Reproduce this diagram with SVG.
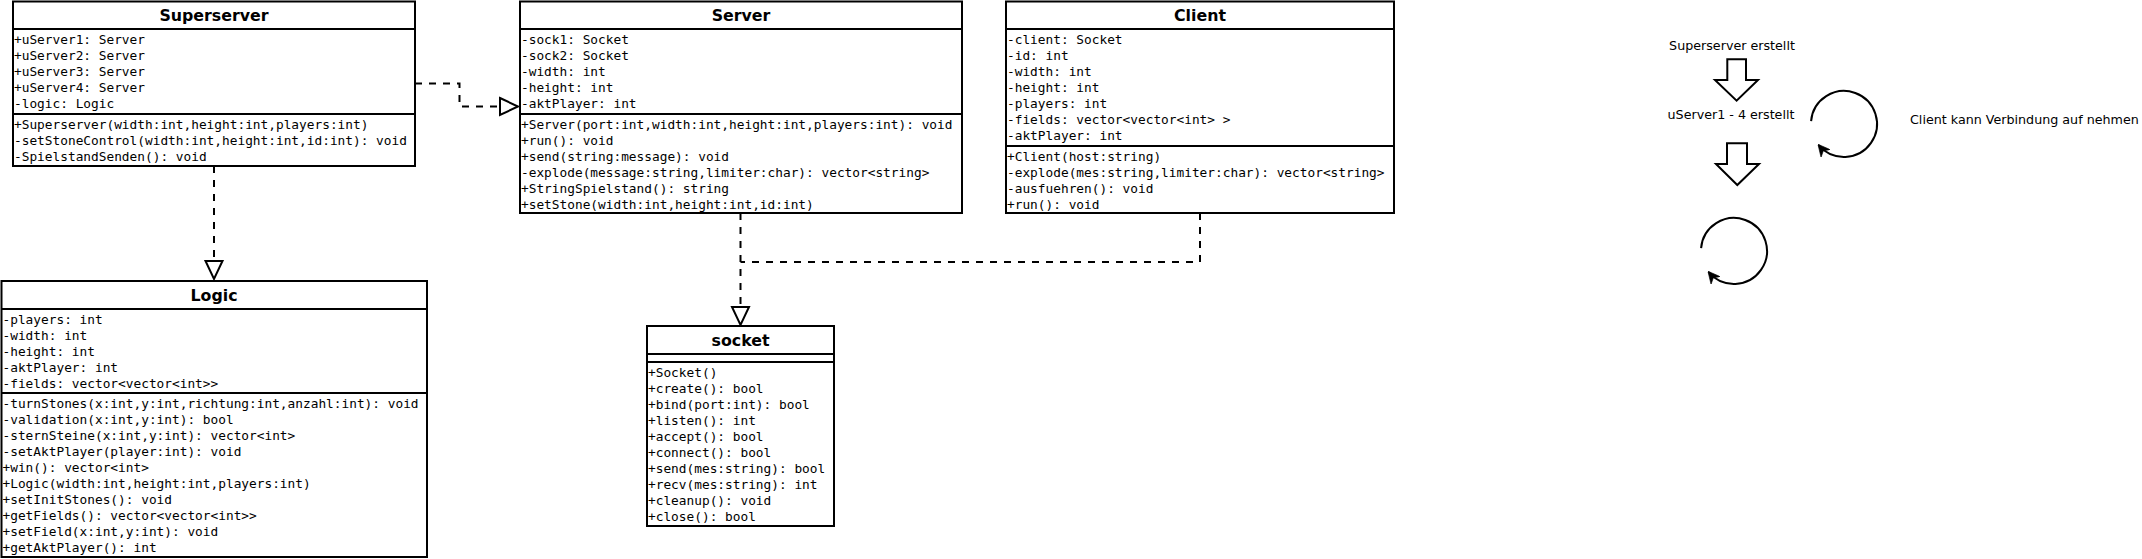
<svg xmlns="http://www.w3.org/2000/svg" width="2142" height="559" viewBox="0 0 2142 559">
<style>
.box{fill:#fff;stroke:#000;stroke-width:2}
.div{stroke:#000;stroke-width:2}
.title{font-family:"DejaVu Sans","Liberation Sans",sans-serif;font-weight:bold;font-size:15.8px;text-anchor:middle;fill:#000}
.m{font-family:"DejaVu Sans Mono","Liberation Mono",monospace;font-size:12.8px;fill:#000}
.lbl{font-family:"DejaVu Sans","Liberation Sans",sans-serif;font-size:12.7px;fill:#000}
.dash{fill:none;stroke:#000;stroke-width:2;stroke-dasharray:7 7}
.tri{fill:#fff;stroke:#000;stroke-width:2;stroke-linejoin:miter}
.barrow{fill:#fff;stroke:#000;stroke-width:2}
.loop{fill:none;stroke:#000;stroke-width:2}
</style>
<defs>
<marker id="classic" viewBox="0 0 10 10" refX="9" refY="5" markerWidth="12" markerHeight="12" markerUnits="userSpaceOnUse" orient="auto">
<path d="M0,0 L10,5 L0,10 L3,5 z" fill="#000" stroke="#000" stroke-width="0.5"/>
</marker>
</defs>

<g id="connectors">
<path class="dash" d="M415,83.5 H459.5 V106.5 H500"/>
<polygon class="tri" points="500,98 518,106.5 500,115"/>
<path class="dash" d="M214,166 V261"/>
<polygon class="tri" points="205.5,261 222.5,261 214,279"/>
<path class="dash" d="M740.5,213 V307"/>
<polygon class="tri" points="732,307 749,307 740.5,325"/>
<path class="dash" d="M1200,213 V262 H740.5"/>
</g>

<g id="Superserver">
<rect class="box" x="13" y="1.5" width="402" height="164.5"/>
<line class="div" x1="13" y1="29" x2="415" y2="29"/>
<line class="div" x1="13" y1="114" x2="415" y2="114"/>
<text class="title" x="214" y="21">Superserver</text>
<text class="m" x="14">
<tspan x="14" y="43.5">+uServer1: Server</tspan>
<tspan x="14" y="59.5">+uServer2: Server</tspan>
<tspan x="14" y="75.5">+uServer3: Server</tspan>
<tspan x="14" y="91.5">+uServer4: Server</tspan>
<tspan x="14" y="107.5">-logic: Logic</tspan>
<tspan x="14" y="128.5">+Superserver(width:int,height:int,players:int)</tspan>
<tspan x="14" y="144.5">-setStoneControl(width:int,height:int,id:int): void</tspan>
<tspan x="14" y="160.5">-SpielstandSenden(): void</tspan>
</text>
</g>

<g id="Server">
<rect class="box" x="520" y="1.5" width="442" height="211.5"/>
<line class="div" x1="520" y1="29" x2="962" y2="29"/>
<line class="div" x1="520" y1="114" x2="962" y2="114"/>
<text class="title" x="741" y="21">Server</text>
<text class="m">
<tspan x="521" y="43.5">-sock1: Socket</tspan>
<tspan x="521" y="59.5">-sock2: Socket</tspan>
<tspan x="521" y="75.5">-width: int</tspan>
<tspan x="521" y="91.5">-height: int</tspan>
<tspan x="521" y="107.5">-aktPlayer: int</tspan>
<tspan x="521" y="128.5">+Server(port:int,width:int,height:int,players:int): void</tspan>
<tspan x="521" y="144.5">+run(): void</tspan>
<tspan x="521" y="160.5">+send(string:message): void</tspan>
<tspan x="521" y="176.5">-explode(message:string,limiter:char): vector&lt;string&gt;</tspan>
<tspan x="521" y="192.5">+StringSpielstand(): string</tspan>
<tspan x="521" y="208.5">+setStone(width:int,height:int,id:int)</tspan>
</text>
</g>

<g id="Client">
<rect class="box" x="1006" y="1.5" width="388" height="211.5"/>
<line class="div" x1="1006" y1="29" x2="1394" y2="29"/>
<line class="div" x1="1006" y1="146" x2="1394" y2="146"/>
<text class="title" x="1200" y="21">Client</text>
<text class="m">
<tspan x="1007" y="43.5">-client: Socket</tspan>
<tspan x="1007" y="59.5">-id: int</tspan>
<tspan x="1007" y="75.5">-width: int</tspan>
<tspan x="1007" y="91.5">-height: int</tspan>
<tspan x="1007" y="107.5">-players: int</tspan>
<tspan x="1007" y="123.5">-fields: vector&lt;vector&lt;int&gt; &gt;</tspan>
<tspan x="1007" y="139.5">-aktPlayer: int</tspan>
<tspan x="1007" y="160.5">+Client(host:string)</tspan>
<tspan x="1007" y="176.5">-explode(mes:string,limiter:char): vector&lt;string&gt;</tspan>
<tspan x="1007" y="192.5">-ausfuehren(): void</tspan>
<tspan x="1007" y="208.5">+run(): void</tspan>
</text>
</g>

<g id="Logic">
<rect class="box" x="1.5" y="281" width="425.5" height="276"/>
<line class="div" x1="1.5" y1="309" x2="427" y2="309"/>
<line class="div" x1="1.5" y1="393" x2="427" y2="393"/>
<text class="title" x="214" y="300.75">Logic</text>
<text class="m">
<tspan x="2.5" y="323.5">-players: int</tspan>
<tspan x="2.5" y="339.5">-width: int</tspan>
<tspan x="2.5" y="355.5">-height: int</tspan>
<tspan x="2.5" y="371.5">-aktPlayer: int</tspan>
<tspan x="2.5" y="387.5">-fields: vector&lt;vector&lt;int&gt;&gt;</tspan>
<tspan x="2.5" y="407.5">-turnStones(x:int,y:int,richtung:int,anzahl:int): void</tspan>
<tspan x="2.5" y="423.5">-validation(x:int,y:int): bool</tspan>
<tspan x="2.5" y="439.5">-sternSteine(x:int,y:int): vector&lt;int&gt;</tspan>
<tspan x="2.5" y="455.5">-setAktPlayer(player:int): void</tspan>
<tspan x="2.5" y="471.5">+win(): vector&lt;int&gt;</tspan>
<tspan x="2.5" y="487.5">+Logic(width:int,height:int,players:int)</tspan>
<tspan x="2.5" y="503.5">+setInitStones(): void</tspan>
<tspan x="2.5" y="519.5">+getFields(): vector&lt;vector&lt;int&gt;&gt;</tspan>
<tspan x="2.5" y="535.5">+setField(x:int,y:int): void</tspan>
<tspan x="2.5" y="551.5">+getAktPlayer(): int</tspan>
</text>
</g>

<g id="socket">
<rect class="box" x="647" y="326" width="187" height="200"/>
<line class="div" x1="647" y1="354" x2="834" y2="354"/>
<line class="div" x1="647" y1="362" x2="834" y2="362"/>
<text class="title" x="740.5" y="345.75">socket</text>
<text class="m">
<tspan x="648" y="376.5">+Socket()</tspan>
<tspan x="648" y="392.5">+create(): bool</tspan>
<tspan x="648" y="408.5">+bind(port:int): bool</tspan>
<tspan x="648" y="424.5">+listen(): int</tspan>
<tspan x="648" y="440.5">+accept(): bool</tspan>
<tspan x="648" y="456.5">+connect(): bool</tspan>
<tspan x="648" y="472.5">+send(mes:string): bool</tspan>
<tspan x="648" y="488.5">+recv(mes:string): int</tspan>
<tspan x="648" y="504.5">+cleanup(): void</tspan>
<tspan x="648" y="520.5">+close(): bool</tspan>
</text>
</g>

<g id="flow">
<text class="lbl" x="1732" y="49.5" text-anchor="middle">Superserver erstellt</text>
<polygon class="barrow" points="1727.3,59.3 1746,59.3 1746,80 1758,80 1736.6,100.7 1715,80 1727.3,80"/>
<text class="lbl" x="1731" y="119" text-anchor="middle">uServer1 - 4 erstellt</text>
<polygon class="barrow" points="1727,143.3 1747,143.3 1747,164 1759,164 1737.3,185 1716,164 1727,164"/>
<path class="loop" d="M1811.1,121.1 A33 33 0 1 1 1818.7,145.2" marker-end="url(#classic)"/>
<path class="loop" d="M1701.1,248.1 A33 33 0 1 1 1708.7,272.2" marker-end="url(#classic)"/>
<text class="lbl" x="1910" y="123.5">Client kann Verbindung auf nehmen</text>
</g>
</svg>
